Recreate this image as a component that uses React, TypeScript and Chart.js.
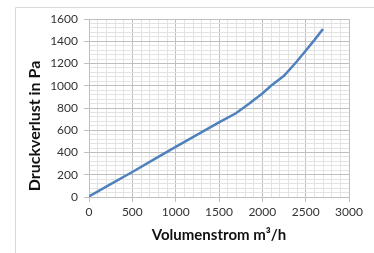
import React, { useEffect, useRef } from "react";
import { Chart, registerables } from "chart.js";

Chart.register(...registerables);

const flowValues = [0, 250, 500, 750, 1000, 1250, 1500, 1700, 1850, 2000, 2100, 2250, 2400, 2500, 2600, 2700];
const pressureValues = [5, 115, 225, 338, 450, 560, 670, 755, 840, 930, 1000, 1090, 1220, 1315, 1410, 1510];
const xTickLabels = ["0", "500", "1000", "1500", "2000", "2500", "3000"];
const yTickLabels = ["0", "200", "400", "600", "800", "1000", "1200", "1400", "1600"];
const yTitle = "Druckverlust in Pa";
const xTitle = "Volumenstrom m³/h";

const framePlugin = {
  id: "frame",
  beforeDraw(chart: any) {
    const ctx = chart.ctx;
    ctx.save();
    ctx.strokeStyle = "#d9d9d9";
    ctx.lineWidth = 1;
    ctx.beginPath();
    ctx.moveTo(15.5, 253);
    ctx.lineTo(15.5, 7.5);
    ctx.lineTo(374, 7.5);
    ctx.stroke();
    ctx.restore();
  },
  afterDraw(chart: any) {
    const ctx = chart.ctx;
    ctx.save();
    ctx.translate(35, 126);
    ctx.rotate(-Math.PI / 2);
    ctx.fillStyle = "#111";
    ctx.font = "bold 16px Lato";
    ctx.textAlign = "center";
    ctx.textBaseline = "middle";
    ctx.fillText(yTitle, 0, 0);
    ctx.restore();
  },
};

export default function App() {
  const ref = useRef<HTMLCanvasElement>(null);
  useEffect(() => {
    document.body.style.margin = "0";
    const chart = new Chart(ref.current!, {
      type: "line",
      data: {
        datasets: [
          {
            data: flowValues.map((x, i) => ({ x, y: pressureValues[i] })),
            borderColor: "#4f81bd",
            borderWidth: 2.5,
            pointRadius: 0,
            tension: 0,
          },
        ],
      },
      options: {
        animation: false,
        responsive: false,
        layout: { padding: { left: 26, right: 25, top: 19, bottom: 9 } },
        plugins: { legend: { display: false }, tooltip: { enabled: false } },
        scales: {
          x: {
            type: "linear",
            min: 0,
            max: 3000,
            afterFit: (s: any) => {
              s.height = 47;
            },
            ticks: {
              stepSize: 100,
              autoSkip: false,
              maxRotation: 0,
              padding: 3,
              color: "#333",
              font: { family: "Lato", size: 12 },
              callback: (v: any) => {
                const lbl = String(v);
                return xTickLabels.includes(lbl) ? lbl : "";
              },
            },
            grid: {
              color: (c: any) => (c.tick && c.tick.value % 500 === 0 ? "#bfbfbf" : "#e3e3e3"),
              tickColor: (c: any) => (c.tick && c.tick.value % 500 === 0 ? "#bfbfbf" : "rgba(0,0,0,0)"),
              tickLength: 5,
            },
            border: { color: "#bfbfbf" },
            title: {
              display: true,
              text: xTitle,
              color: "#111",
              font: { family: "Lato", size: 15, weight: "bold" },
              padding: 0,
            },
          },
          y: {
            type: "linear",
            min: 0,
            max: 1600,
            afterFit: (s: any) => {
              s.width = 63;
            },
            ticks: {
              stepSize: 40,
              autoSkip: false,
              padding: 6,
              color: "#333",
              font: { family: "Lato", size: 12 },
              callback: (v: any) => {
                const lbl = String(v);
                return yTickLabels.includes(lbl) ? lbl : "";
              },
            },
            grid: {
              color: (c: any) => (c.tick && c.tick.value % 200 === 0 ? "#bfbfbf" : "#e3e3e3"),
              tickColor: (c: any) => (c.tick && c.tick.value % 200 === 0 ? "#bfbfbf" : "rgba(0,0,0,0)"),
              tickLength: 5,
            },
            border: { color: "#bfbfbf" },
            title: { display: false },
          },
        },
      },
      plugins: [framePlugin],
    } as any);
    return () => chart.destroy();
  }, []);
  return (
    <div style={{ position: "fixed", left: 0, top: 0, width: 374, height: 253, background: "#fff" }}>
      <canvas ref={ref} width={374} height={253} style={{ width: 374, height: 253 }} />
    </div>
  );
}
